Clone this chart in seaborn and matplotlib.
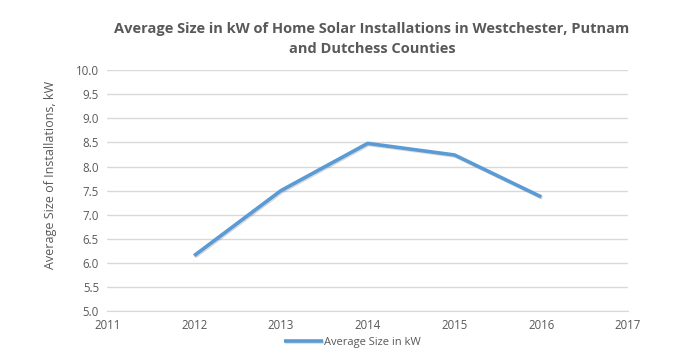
import pandas as pd
import matplotlib.pyplot as plt
import matplotlib.patheffects as pe
import seaborn as sns

# data
years = [2012, 2013, 2014, 2015, 2016]
avg_size = [6.15, 7.50, 8.48, 8.24, 7.37]
series_name = "Average Size in kW"

df = pd.DataFrame({"Year": years, "Size": avg_size})

sns.set_style("white")
plt.rcParams['font.family'] = ['Open Sans', 'DejaVu Sans']

fig = plt.figure(figsize=(6.79, 3.56), dpi=100)
ax = fig.add_axes([0.158, 0.126, 0.767, 0.677])

sns.lineplot(
    data=df, x="Year", y="Size", ax=ax, color="#5B9BD5", linewidth=2.6,
    label=series_name, solid_capstyle="butt",
    path_effects=[pe.SimpleLineShadow(offset=(0.8, -0.8), alpha=0.15), pe.Normal()])

ax.set_xlim(2011, 2017)
ax.set_ylim(5.0, 10.0)
ax.set_xticks(range(2011, 2018))
ax.set_yticks([5.0 + 0.5 * i for i in range(11)])
ax.set_yticklabels([f"{5.0 + 0.5 * i:.1f}" for i in range(11)])
ax.grid(axis="y", color="#D9D9D9", linewidth=1)
ax.set_axisbelow(True)
for s in ["top", "right", "left"]:
    ax.spines[s].set_visible(False)
ax.spines["bottom"].set_color("#D9D9D9")
ax.tick_params(axis="both", length=0, labelsize=8.3, colors="#595959", pad=6)

ax.set_xlabel("")
ax.set_ylabel("Average Size of Installations, kW", fontsize=9, color="#595959")
ax.yaxis.set_label_coords(-0.096, 0.564)

fig.text(0.548, 0.89, "Average Size in kW of Home Solar Installations in Westchester, Putnam\nand Dutchess Counties",
         ha="center", va="center", fontsize=10.5, fontweight="bold", color="#595959", linespacing=1.6)

ax.legend(loc="upper center", bbox_to_anchor=(0.47, -0.065), frameon=False, fontsize=8,
          handlelength=3.5, handletextpad=0.1, labelcolor="#595959")

fig.savefig("out.png", dpi=100)
